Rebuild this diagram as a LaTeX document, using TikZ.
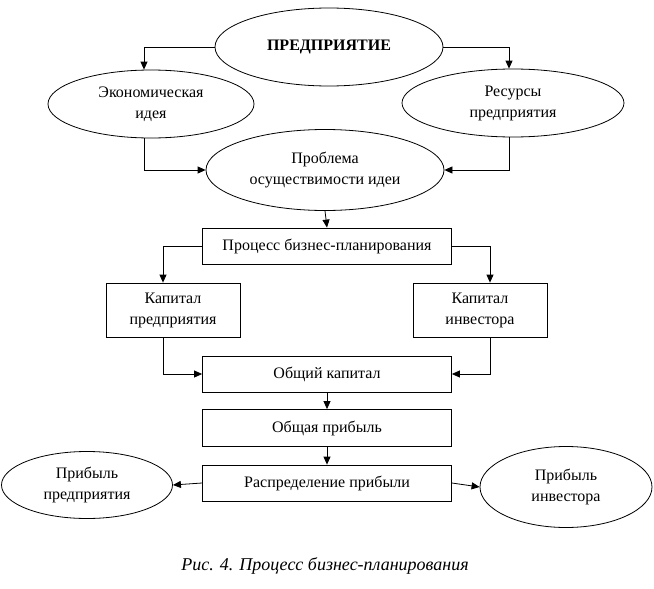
\documentclass[tikz,border=0pt]{standalone}
\usepackage{fontspec}
\setmainfont{Liberation Serif}
\usetikzlibrary{shapes.geometric,arrows.meta}

\begin{document}
\begin{tikzpicture}[x=1pt,y=-1pt,
    font=\fontsize{16}{21}\selectfont,
    oval/.style={ellipse,draw,inner sep=0pt,align=center},
    block/.style={rectangle,draw,inner sep=0pt,align=center},
    arr/.style={-{Triangle[length=8pt,width=7pt]}},
    line width=0.8pt]
  \useasboundingbox (0,0) rectangle (654,589);
  % ellipses at the top
  \node[oval,minimum width=228,minimum height=78] (ent) at (329,47) {\raisebox{-5pt}{\textbf{ПРЕДПРИЯТИЕ}}};
  \node[oval,minimum width=206,minimum height=68] (econ) at (151,104) {Экономическая\\идея};
  \node[oval,minimum width=222,minimum height=68] (res) at (513,103) {Ресурсы\\предприятия};
  \node[oval,minimum width=238,minimum height=81] (probl) at (325,170) {Проблема\\осуществимости идеи};
  % boxes
  \node[block,minimum width=249,minimum height=36] (plan) at (327,246) {Процесс бизнес-планирования};
  \node[block,minimum width=134,minimum height=54] (capent) at (173,310) {Капитал\\предприятия};
  \node[block,minimum width=134,minimum height=54] (capinv) at (480,310) {Капитал\\инвестора};
  \node[block,minimum width=249,minimum height=36] (total) at (327,374) {Общий капитал};
  \node[block,minimum width=249,minimum height=37] (profit) at (327,428) {Общая прибыль};
  \node[block,minimum width=249,minimum height=36] (distr) at (327,483) {Распределение прибыли};
  % profit shares
  \node[oval,minimum width=171,minimum height=67] (pent) at (87,485) {Прибыль\\предприятия};
  \node[oval,minimum width=172,minimum height=81] (pinv) at (566,487) {Прибыль\\инвестора};
  % caption
  \node[font=\fontsize{18}{22}\selectfont\itshape] (capt) at (325,566) {Рис. 4. Процесс бизнес-планирования};

  % arrows
  \draw[arr] (ent.west) -| ([xshift=-7]econ.north);
  \draw[arr] (ent.east) -| ([xshift=-4]res.north);
  \draw[arr] ([xshift=-7]econ.south) |- (probl.west);
  \draw[arr] ([xshift=-4]res.south) |- (probl.east);
  \draw[arr] (probl.south) -- (plan.north);
  \draw[arr] (plan.west) -| ([xshift=-10]capent.north);
  \draw[arr] (plan.east) -| ([xshift=10]capinv.north);
  \draw[arr] ([xshift=-10]capent.south) |- (total.west);
  \draw[arr] ([xshift=10]capinv.south) |- (total.east);
  \draw[arr] (total.south) -- (profit.north);
  \draw[arr] (profit.south) -- (distr.north);
  \draw[arr] (distr.west) -- (pent.east);
  \draw[arr] (distr.east) -- (pinv.west);
\end{tikzpicture}
\end{document}
